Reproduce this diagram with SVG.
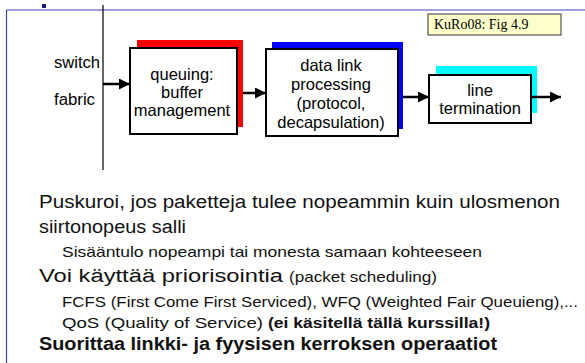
<svg xmlns="http://www.w3.org/2000/svg" width="585" height="363" viewBox="0 0 585 363">
  <defs>
    <marker id="arrow" viewBox="0 0 10 10" refX="10" refY="5" markerWidth="11" markerHeight="11" markerUnits="userSpaceOnUse" orient="auto">
      <path d="M0,0 L10,5 L0,10 z" fill="#000"/>
    </marker>
  </defs>
  <style>
    .box { fill: #fff; stroke: #000; stroke-width: 2; }
    .lbl { font-family: "Liberation Sans", Arial, sans-serif; font-size: 16.5px; fill: #000; text-anchor: middle; }
    .side { font-family: "Liberation Sans", Arial, sans-serif; font-size: 16px; fill: #000; }
    .conn { stroke: #000; stroke-width: 2.5; fill: none; }
    .t1 { font-family: "Liberation Sans", Arial, sans-serif; font-size: 18px; fill: #111; }
    .t2 { font-family: "Liberation Sans", Arial, sans-serif; font-size: 15px; fill: #111; }
    .bold { font-weight: bold; }
  </style>

  <rect width="585" height="363" fill="#fff"/>

  <!-- slide frame -->
  <line x1="6.5" y1="10" x2="585" y2="10" stroke="#4040b0" stroke-width="1.2"/>
  <line x1="6.5" y1="10" x2="6.5" y2="363" stroke="#4040b0" stroke-width="1.2"/>
  <rect x="42" y="4" width="4" height="4" fill="#1a1a80"/>

  <!-- switch fabric -->
  <g id="switch-fabric">
    <line x1="103" y1="5" x2="103" y2="170" stroke="#000" stroke-width="1.2"/>
    <text class="side" x="54" y="68" textLength="46" lengthAdjust="spacingAndGlyphs">switch</text>
    <text class="side" x="54" y="105" textLength="41" lengthAdjust="spacingAndGlyphs">fabric</text>
  </g>

  <g id="queuing">
    <rect x="137" y="40" width="106" height="87" fill="#ff0000"/>
    <rect class="box" x="130" y="48" width="107" height="86"/>
    <text class="lbl" x="182" y="80">queuing:</text>
    <text class="lbl" x="182" y="98">buffer</text>
    <text class="lbl" x="182" y="116">management</text>
  </g>

  <g id="data-link">
    <rect x="272" y="42" width="131" height="87" fill="#0000ff"/>
    <rect class="box" x="266" y="49" width="132" height="87"/>
    <text class="lbl" x="331" y="71">data link</text>
    <text class="lbl" x="331" y="90">processing</text>
    <text class="lbl" x="331" y="109">(protocol,</text>
    <text class="lbl" x="331" y="128">decapsulation)</text>
  </g>

  <g id="line-termination">
    <rect x="436" y="66" width="101" height="47" fill="#00ffff"/>
    <rect class="box" x="429" y="75" width="102" height="48"/>
    <text class="lbl" x="480" y="96">line</text>
    <text class="lbl" x="480" y="114">termination</text>
  </g>

  <g id="connectors">
    <line class="conn" x1="103" y1="84" x2="130" y2="84" marker-end="url(#arrow)"/>
    <line class="conn" x1="243" y1="93" x2="266" y2="93" marker-end="url(#arrow)"/>
    <line class="conn" x1="403" y1="97" x2="429" y2="97" marker-end="url(#arrow)"/>
    <line class="conn" x1="531" y1="97" x2="561" y2="97" marker-end="url(#arrow)"/>
  </g>

  <g id="reference-tag">
    <rect x="428" y="14" width="133" height="21" fill="#ffffcc" stroke="#333" stroke-width="1"/>
    <text x="434" y="29" font-family="'Liberation Serif', 'Times New Roman', serif" font-size="14" fill="#000">KuRo08: Fig 4.9</text>
  </g>

  <!-- bullet text -->
  <text class="t1" x="39" y="208" textLength="521" lengthAdjust="spacingAndGlyphs">Puskuroi, jos paketteja tulee nopeammin kuin ulosmenon</text>
  <text class="t1" x="39" y="233" textLength="147" lengthAdjust="spacingAndGlyphs">siirtonopeus salli</text>
  <text class="t2" x="62" y="257" textLength="420" lengthAdjust="spacingAndGlyphs">Sisääntulo nopeampi tai monesta samaan kohteeseen</text>
  <text class="t1" x="39" y="282" textLength="244" lengthAdjust="spacingAndGlyphs">Voi käyttää priorisointia</text>
  <text class="t2" x="289" y="282" textLength="148" lengthAdjust="spacingAndGlyphs">(packet scheduling)</text>
  <text class="t2" x="62" y="306.5" textLength="516" lengthAdjust="spacingAndGlyphs">FCFS (First Come First Serviced), WFQ (Weighted Fair Queuieng),...</text>
  <text class="t2" x="62" y="328" textLength="201" lengthAdjust="spacingAndGlyphs">QoS (Quality of Service)</text>
  <text class="t2 bold" x="268" y="328" textLength="222" lengthAdjust="spacingAndGlyphs">(ei käsitellä tällä kurssilla!)</text>
  <text class="t1 bold" x="39" y="350" textLength="458" lengthAdjust="spacingAndGlyphs">Suorittaa linkki- ja fyysisen kerroksen operaatiot</text>
</svg>
